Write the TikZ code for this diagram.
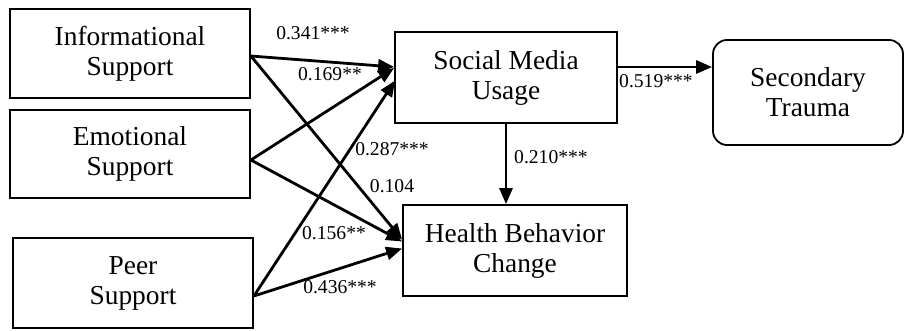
\documentclass[tikz,border=0pt]{standalone}
\usepackage{fontspec}
\setmainfont{Liberation Serif}
\usetikzlibrary{arrows.meta,calc}
\begin{document}
\begin{tikzpicture}[x=1pt,y=-1pt,
  box/.style={draw,line width=1.8pt,minimum width=#1,inner sep=0pt,align=center,font=\fontsize{27.4}{30}\selectfont},
  rbox/.style={box=#1,rounded corners=14pt},
  path/.style={line width=2.8pt,-{Triangle[length=16pt,width=13pt]}},
  coef/.style={font=\fontsize{19.6}{21}\selectfont,inner sep=0pt}]
\useasboundingbox (0,0) rectangle (907,331);
\node[box=240pt,minimum height=89pt] (info) at (130,53.5) {Informational\\Support};
\node[box=240pt,minimum height=88pt] (emo) at (130,154) {Emotional\\Support};
\node[box=240pt,minimum height=90pt] (peer) at (133,283) {Peer\\Support};
\node[box=222pt,minimum height=91pt] (smu) at (506,77.5) {Social Media\\Usage};
\node[rbox=190pt,minimum height=105pt] (st) at (808,92.5) {Secondary\\Trauma};
\node[box=224pt,minimum height=91pt] (hbc) at (515,250.5) {Health Behavior\\Change};

\coordinate (i0) at ($(info.east)+(0,2.5)$);
\coordinate (e0) at ($(emo.east)+(0,6)$);
\coordinate (p0) at ($(peer.east)+(0,13)$);

\draw[path] (i0) -- ($(smu.west)+(0,-10.5)$);
\draw[path] (i0) -- ($(hbc.west)+(0,-11)$);
\draw[path] (e0) -- ($(smu.west)+(0,-9.5)$);
\draw[path] (e0) -- ($(hbc.west)+(0,-9)$);
\draw[path] (p0) -- ($(smu.west)+(1,3)$);
\draw[path] (p0) -- ($(hbc.west)+(0,-2)$);
\draw[path] (smu.south) -- (smu.south |- hbc.north);
\draw[path] ($(smu.east)+(0,-10.5)$) -- (st.west |- {$(smu.east)+(0,-10.5)$});

\node[coef] (c1) at (313,33) {0.341***};
\node[coef] (c2) at (330,74) {0.169**};
\node[coef] (c3) at (392,149) {0.287***};
\node[coef] (c4) at (392,186) {0.104};
\node[coef] (c5) at (334,233) {0.156**};
\node[coef] (c6) at (340,287) {0.436***};
\node[coef,anchor=west] (c7) at (619,81) {0.519***};
\node[coef,anchor=west] (c8) at (514,157) {0.210***};
\end{tikzpicture}
\end{document}
